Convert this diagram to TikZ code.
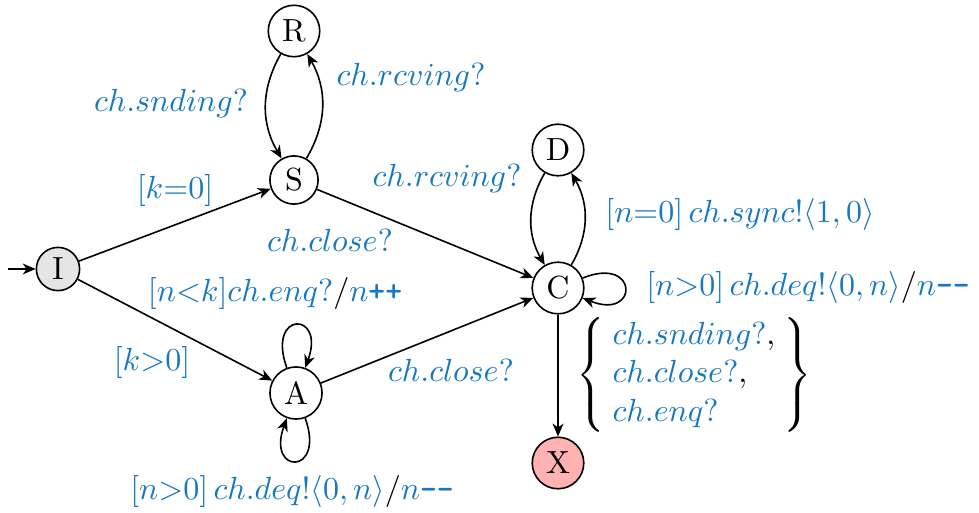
\documentclass[tikz,border=0pt]{standalone}
\usepackage{amsmath}
\usetikzlibrary{arrows.meta}
\definecolor{lblue}{RGB}{22,120,192}
\newcommand{\bl}[1]{\textcolor{lblue}{#1}}
\newcommand{\incr}{\text{\ttfamily\bfseries ++}}
\newcommand{\decr}{\text{\ttfamily\bfseries -{}-}}
\tikzset{
  state/.style={circle, draw, line width=0.5pt, inner sep=2.1pt},
  initst/.style={state, fill=gray!20},
  errst/.style={state, fill=red!30},
  tr/.style={line width=0.5pt, -{Stealth[length=4pt,width=3.4pt,inset=1.2pt]}},
  lbl/.style={inner sep=0pt, text=lblue},
  sloop/.style={looseness=1, min distance=19pt},
}
\begin{document}
\begin{tikzpicture}[x=0.3125pt, y=0.3125pt]
  \useasboundingbox (0,0) rectangle (979,-512);

  % states
  \node[initst] (I) at (58,-269) {I};
  \node[state]  (S) at (294,-180) {S};
  \node[state]  (R) at (294,-31) {R};
  \node[state]  (A) at (296,-393) {A};
  \node[state]  (C) at (558,-288) {C};
  \node[state]  (D) at (558,-150) {D};
  \node[errst]  (X) at (558,-463) {X};
  \coordinate (start) at (8,-269);

  % transitions
  \draw[tr] (start) -- (I);
  \draw[tr] (I) -- (S);
  \draw[tr] (I) -- (A);
  \draw[tr] (R) to[bend right=30] (S);
  \draw[tr] (S) to[bend right=30] (R);
  \draw[tr] (S) -- (C);
  \draw[tr] (A) -- (C);
  \draw[tr] (D) to[bend right=30] (C);
  \draw[tr] (C) to[bend right=30] (D);
  \draw[tr] (A) to[out=110, in=70, sloop] (A);
  \draw[tr] (A) to[out=-70, in=-110, sloop] (A);
  \draw[tr] (C) to[out=22, in=-22, sloop] (C);
  \draw[tr] (C) -- (X);

  % labels
  \node[lbl] (l1) at (171,-104) {$ch.snding?$};
  \node[lbl] (l2) at (411,-78) {$ch.rcving?$};
  \node[lbl] (l3) at (175,-190) {$[k{=}0]$};
  \node[lbl] (l4) at (330,-240) {$ch.close?$};
  \node[lbl] (l5) at (447,-178) {$ch.rcving?$};
  \node[lbl] (l6) at (740,-215) {$[n{=}0]\,ch.sync!\langle 1,0\rangle$};
  \node[inner sep=0pt] (l7) at (275,-293)
    {$\bl{[n{<}k]ch.enq?}/\bl{n\incr}$};
  \node[inner sep=0pt] (l8) at (808,-287)
    {$\bl{[n{>}0]\,ch.deq!\langle 0,n\rangle}/\bl{n\decr}$};
  \node[lbl] (l9) at (152,-362) {$[k{>}0]$};
  \node[lbl] (l10) at (451,-370) {$ch.close?$};
  \node[inner sep=0pt] (l11) at (292,-491)
    {$\bl{[n{>}0]\,ch.deq!\langle 0,n\rangle}/\bl{n\decr}$};
  \node[inner sep=0pt] (l12) at (694,-375)
    {\setlength\arraycolsep{2.5pt}$\left\{\begin{array}{l}
      \bl{ch.snding?},\\
      \bl{ch.close?},\\
      \bl{ch.enq?}
    \end{array}\right\}$};
\end{tikzpicture}
\end{document}
